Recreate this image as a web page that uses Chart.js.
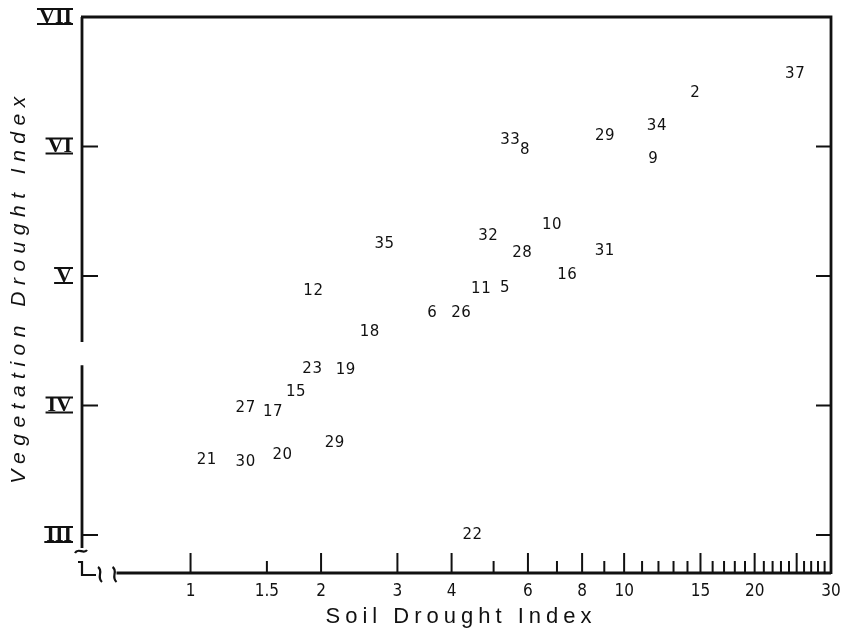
<!DOCTYPE html>
<html>
<head>
<meta charset="utf-8">
<script src="https://cdn.jsdelivr.net/npm/chart.js@4.4.1/dist/chart.umd.min.js"></script>
<style>
  html, body { margin: 0; padding: 0; background: #fff; }
  #wrap { width: 846px; height: 631px; }
</style>
</head>
<body>
<div id="wrap"><canvas id="myChart" width="846" height="631"></canvas></div>
<script>
// station numbers, plotted as text at (soil index, vegetation index)
const stations = ["37", "2", "34", "29", "9", "33", "8", "10", "32", "35", "28", "31", "16", "11", "5",
  "12", "6", "26", "18", "23", "19", "15", "27", "17", "29", "21", "30", "20", "22"];
const soilIndex = [24.8, 14.6, 11.9, 9.04, 11.67, 5.46, 5.91, 6.82, 4.86, 2.80, 5.82, 9.02, 7.39, 4.68, 5.31,
  1.92, 3.61, 4.21, 2.59, 1.91, 2.28, 1.75, 1.34, 1.55, 2.15, 1.09, 1.34, 1.63, 4.47];
const vegIndex = [6.56, 6.41, 6.16, 6.08, 5.90, 6.05, 5.97, 5.39, 5.31, 5.25, 5.18, 5.19, 5.01, 4.90, 4.91,
  4.88, 4.71, 4.71, 4.57, 4.28, 4.27, 4.10, 3.98, 3.95, 3.71, 3.58, 3.56, 3.62, 3.00];

// x axis (log) tick marks and the ones that carry a label
const xTicks = [1, 1.5, 2, 3, 4, 5, 6, 7, 8, 9, 10, 11, 12, 13, 14, 15, 16, 17, 18, 19,
  20, 21, 22, 23, 24, 25, 26, 27, 28, 29, 30];
const xLabelled = [1, 1.5, 2, 3, 4, 6, 8, 10, 15, 20, 30];
const xTall = [1, 2, 3, 4, 6, 8, 10, 15, 20, 25];

// y axis classes
const yTicks = [3, 4, 5, 6, 7];
const yRoman = ["III", "IV", "V", "VI", "VII"];

const romanFont = "bold 22px 'Liberation Serif', 'DejaVu Serif', serif";

const data = soilIndex.map((v, i) => ({ x: v, y: vegIndex[i] }));

const drawing = {
  id: 'drawing',
  afterDatasetsDraw(chart) {
    const ctx = chart.ctx;
    const meta = chart.getDatasetMeta(0);
    ctx.save();
    ctx.fillStyle = '#111';
    ctx.font = "15px 'DejaVu Sans', sans-serif";
    ctx.letterSpacing = '0.5px';
    ctx.textAlign = 'center';
    ctx.textBaseline = 'middle';
    meta.data.forEach((pt, i) => {
      ctx.fillText(stations[i], pt.x, pt.y);
    });
    ctx.restore();
  },
  afterDraw(chart) {
    const { ctx, chartArea: a, scales: { x, y } } = chart;
    ctx.save();
    ctx.strokeStyle = '#111';
    ctx.fillStyle = '#111';
    ctx.lineWidth = 2.8;

    // top and right border
    ctx.beginPath();
    ctx.moveTo(a.left - 1, a.top);
    ctx.lineTo(a.right, a.top);
    ctx.lineTo(a.right, a.bottom + 1);
    ctx.stroke();

    // left axis, broken between IV and V
    const gapTop = y.getPixelForValue(4.49);
    const gapBot = y.getPixelForValue(4.31);
    const yEnd = y.getPixelForValue(2.9);
    ctx.beginPath();
    ctx.moveTo(a.left, a.top);
    ctx.lineTo(a.left, gapTop);
    ctx.moveTo(a.left, gapBot);
    ctx.lineTo(a.left, yEnd);
    ctx.stroke();

    // bottom axis, starts after the break marks
    const xStart = x.getPixelForValue(0.675);
    ctx.beginPath();
    ctx.moveTo(xStart, a.bottom);
    ctx.lineTo(a.right, a.bottom);
    ctx.stroke();

    // break marks
    ctx.lineWidth = 2.2;
    const L = a.left, B = a.bottom;
    ctx.beginPath();
    ctx.moveTo(L - 7, yEnd + 5);
    ctx.bezierCurveTo(L - 4, yEnd - 1, L + 2, yEnd + 7, L + 5, yEnd + 2);
    ctx.stroke();
    ctx.beginPath();
    ctx.moveTo(L - 4, B - 11);
    ctx.lineTo(L, B - 11);
    ctx.lineTo(L, B + 2);
    ctx.lineTo(L + 14, B + 2);
    ctx.stroke();
    [L + 18, xStart - 2].forEach(cx => {
      ctx.beginPath();
      ctx.moveTo(cx - 2, B - 6);
      ctx.bezierCurveTo(cx + 4, B - 2, cx - 4, B + 4, cx + 2, B + 9);
      ctx.stroke();
    });

    // x tick marks pointing up into the plot
    ctx.lineWidth = 2;
    xTicks.forEach(v => {
      if (v >= 30) return;
      const px = x.getPixelForValue(v);
      const len = xTall.includes(v) ? 20 : 12;
      ctx.beginPath();
      ctx.moveTo(px, B);
      ctx.lineTo(px, B - len);
      ctx.stroke();
    });

    // y tick marks on both sides
    yTicks.forEach(v => {
      if (v >= 7) return;
      const py = y.getPixelForValue(v);
      ctx.beginPath();
      ctx.moveTo(L, py);
      ctx.lineTo(L + 16, py);
      ctx.moveTo(a.right, py);
      ctx.lineTo(a.right - 15, py);
      ctx.stroke();
    });

    // bars over and under the roman numerals
    ctx.font = romanFont;
    ctx.lineWidth = 1.8;
    yTicks.forEach((v, i) => {
      const py = y.getPixelForValue(v);
      const w = ctx.measureText(yRoman[i]).width;
      const r = y.right - 10;
      ctx.beginPath();
      ctx.moveTo(r - w - 2, py - 8);
      ctx.lineTo(r + 1, py - 8);
      ctx.moveTo(r - w - 2, py + 7);
      ctx.lineTo(r + 1, py + 7);
      ctx.stroke();
    });

    // axis titles
    ctx.textAlign = 'center';
    ctx.textBaseline = 'middle';
    ctx.font = "22px 'Liberation Sans', 'DejaVu Sans', sans-serif";
    ctx.letterSpacing = '5px';
    ctx.fillText('Soil Drought Index', 461, 617);
    ctx.translate(19, 290);
    ctx.rotate(-Math.PI / 2);
    ctx.font = "italic 21px 'Liberation Sans', 'DejaVu Sans', sans-serif";
    ctx.letterSpacing = '6.5px';
    ctx.fillText('Vegetation Drought Index', 3, 0);
    ctx.restore();
  }
};

const myChart = new Chart("myChart", {
  type: "scatter",
  data: {
    datasets: [{
      data: data,
      pointRadius: 0,
      pointHoverRadius: 0,
      showLine: false
    }]
  },
  options: {
    responsive: false,
    animation: false,
    events: [],
    layout: { padding: { top: 17, right: 15, bottom: 0, left: 0 } },
    plugins: {
      legend: { display: false },
      tooltip: { enabled: false }
    },
    scales: {
      x: {
        type: "logarithmic",
        min: 0.5619,
        max: 30,
        grid: { display: false, drawTicks: false },
        border: { display: false },
        afterBuildTicks: s => { s.ticks = xTicks.map(v => ({ value: v })); },
        afterFit: s => { s.height = 58; s.paddingLeft = 0; s.paddingRight = 0; },
        ticks: {
          autoSkip: false,
          maxRotation: 0,
          padding: 8,
          color: "#111",
          font: { family: "'Liberation Sans Narrow', 'DejaVu Sans Condensed', 'Liberation Sans', sans-serif", size: 17 },
          callback: v => xLabelled.includes(v) ? String(v) : ""
        }
      },
      y: {
        min: 2.7066,
        max: 7,
        grid: { display: false, drawTicks: false },
        border: { display: false },
        afterBuildTicks: s => { s.ticks = yTicks.map(v => ({ value: v })); },
        afterFit: s => { s.width = 82; s.paddingTop = 0; s.paddingBottom = 0; },
        ticks: {
          padding: 10,
          color: "#111",
          font: { family: "'Liberation Serif', 'DejaVu Serif', serif", size: 22, weight: "bold" },
          callback: v => yRoman[yTicks.indexOf(v)]
        }
      }
    }
  },
  plugins: [drawing]
});
</script>
</body>
</html>
